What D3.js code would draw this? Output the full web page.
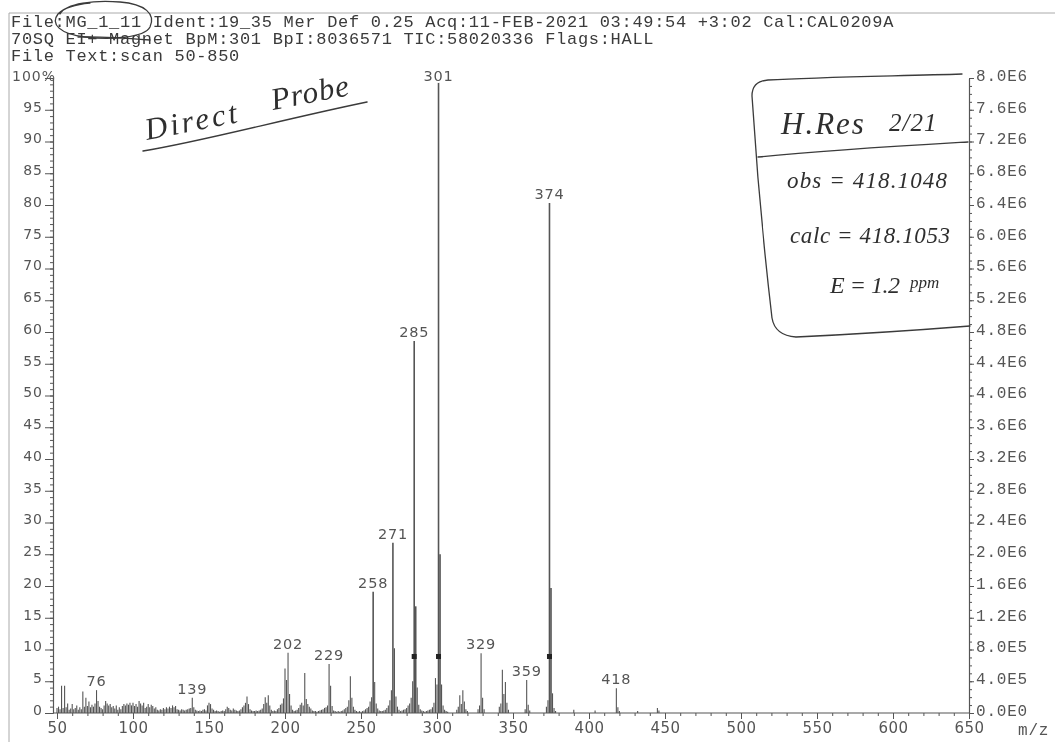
<!DOCTYPE html>
<html>
<head>
<meta charset="utf-8">
<script src="https://cdn.jsdelivr.net/npm/d3@7"></script>
<style>
  html, body { margin: 0; padding: 0; background: #fff; }
  svg { display: block; }
</style>
</head>
<body>
<svg id="chart" width="1055" height="742"></svg>
<script>
// ---- run header ----
const headerLines = [
  "File:MG_1_11 Ident:19_35 Mer Def 0.25 Acq:11-FEB-2021 03:49:54 +3:02 Cal:CAL0209A",
  "70SQ EI+ Magnet BpM:301 BpI:8036571 TIC:58020336 Flags:HALL",
  "File Text:scan 50-850"
];

// ---- spectrum: m/z and relative intensity (%) ----
const mzValues = [
  50,51,52,53,54,55,56,57,58,59,60,61,62,63,64,65,66,67,68,69,70,71,72,73,74,75,76,77,78,79,
  80,81,82,83,84,85,86,87,88,89,90,91,92,93,94,95,96,97,98,99,100,101,102,103,104,105,106,107,108,109,
  110,111,112,113,114,115,116,117,118,119,120,121,122,123,124,125,126,127,128,129,130,131,132,133,134,135,136,137,138,139,
  140,141,142,143,144,145,146,147,148,149,150,151,152,153,154,155,156,157,158,159,160,161,162,163,164,165,166,167,168,169,
  170,171,172,173,174,175,176,177,178,179,180,181,182,183,184,185,186,187,188,189,190,191,192,193,194,195,196,197,198,199,
  200,201,202,203,204,205,206,207,208,209,210,211,212,213,214,215,216,217,218,219,220,221,222,223,224,225,226,227,228,229,
  230,231,232,233,234,235,236,237,238,239,240,241,242,243,244,245,246,247,248,249,250,251,252,253,254,255,256,257,258,259,
  260,261,262,263,264,265,266,267,268,269,270,271,272,273,274,275,276,277,278,279,280,281,282,283,284,285,286,287,288,289,
  290,291,292,293,294,295,296,297,298,299,300,301,302,303,304,305,306,307,
  313,314,315,316,317,318,319,320,327,328,329,330,331,
  341,342,343,344,345,346,347,358,359,360,361,
  372,373,374,375,376,377,378,390,404,418,419,420,432,445,446
];
const intensities = [
  0.8,1.0,0.6,4.3,0.8,4.3,0.9,1.5,0.5,0.7,1.4,0.6,0.8,1.2,0.5,0.9,0.6,3.4,1.0,2.4,1.1,1.8,0.9,1.3,1.0,1.5,3.6,1.9,1.0,0.8,
  0.6,1.2,1.9,1.5,1.2,1.4,0.9,1.1,0.7,1.2,0.5,0.9,0.6,1.1,1.4,1.2,1.5,1.3,1.6,1.2,1.6,1.1,1.4,1.0,1.9,1.5,1.2,1.6,0.8,1.0,
  1.4,0.9,1.3,1.1,0.7,0.9,0.5,0.4,0.6,0.5,0.8,0.6,0.9,0.7,1.0,0.8,1.2,0.9,1.1,0.6,0.5,0.4,0.6,0.5,0.4,0.5,0.6,0.7,0.8,2.4,
  0.9,0.5,0.4,0.3,0.4,0.3,0.5,0.6,0.4,1.2,1.6,1.4,0.7,0.5,0.3,0.4,0.3,0.2,0.3,0.4,0.3,0.6,1.0,0.8,0.5,0.4,0.7,0.5,0.4,0.3,
  0.4,0.6,0.9,1.2,1.6,2.6,1.4,0.6,0.4,0.3,0.3,0.4,0.3,0.4,0.5,0.7,1.4,2.5,1.6,2.8,1.2,0.5,0.3,0.4,0.3,0.6,0.8,1.3,1.5,2.3,
  7.0,5.2,9.5,3.0,1.2,0.5,0.3,0.4,0.5,0.8,1.3,1.6,1.2,6.3,2.2,1.4,1.0,0.7,0.4,0.3,0.3,0.2,0.3,0.4,0.5,0.6,0.8,0.9,1.2,7.7,
  4.3,1.1,0.4,0.3,0.2,0.3,0.2,0.3,0.4,0.6,0.8,1.0,2.0,5.8,2.4,1.0,0.5,0.3,0.2,0.3,0.2,0.3,0.4,0.6,0.8,1.0,1.8,2.5,19.1,4.9,
  1.5,0.7,0.4,0.3,0.3,0.4,0.5,0.8,1.2,2.0,3.6,26.8,10.2,2.6,1.0,0.5,0.3,0.4,0.5,0.6,0.8,1.2,1.5,2.4,5.0,58.6,16.8,4.0,1.3,0.6,
  0.4,0.3,0.2,0.3,0.4,0.5,0.6,0.9,1.6,5.5,4.5,100,25.0,4.5,1.2,0.5,0.3,0.2,
  0.5,1.0,2.8,1.4,3.6,1.8,0.6,0.3,0.6,1.2,9.4,2.4,0.6,
  1.0,1.5,6.8,3.0,4.9,1.6,0.5,0.6,5.2,1.3,0.4,
  1.0,2.0,80.3,19.7,3.1,0.8,0.3,0.5,0.4,3.9,0.9,0.3,0.3,0.8,0.4
];
const labeledPeaks = [76, 139, 202, 229, 258, 271, 285, 301, 329, 359, 374, 418];
const markedPeaks = [285, 301, 374];
const markerLevel = 8.9;

// ---- axes ----
const xTickValues = [50,100,150,200,250,300,350,400,450,500,550,600,650];
const leftTickValues = [0,5,10,15,20,25,30,35,40,45,50,55,60,65,70,75,80,85,90,95,100];
const leftTickLabels = ["0","5","10","15","20","25","30","35","40","45","50","55","60","65","70","75","80","85","90","95","100%"];
const rightTickValues = [0,4e5,8e5,1.2e6,1.6e6,2.0e6,2.4e6,2.8e6,3.2e6,3.6e6,4.0e6,4.4e6,4.8e6,5.2e6,5.6e6,6.0e6,6.4e6,6.8e6,7.2e6,7.6e6,8.0e6];
const rightTickLabels = ["0.0E0","4.0E5","8.0E5","1.2E6","1.6E6","2.0E6","2.4E6","2.8E6","3.2E6","3.6E6","4.0E6",
  "4.4E6","4.8E6","5.2E6","5.6E6","6.0E6","6.4E6","6.8E6","7.2E6","7.6E6","8.0E6"];

// ---- layout ----
const W = 1055, H = 742;
const plot = { left: 53, right: 969, top: 78, bottom: 713 };
const MONO = "'Liberation Mono', 'DejaVu Sans Mono', monospace";
const SANS = "'DejaVu Sans', 'Liberation Sans', sans-serif";
const HAND = "'Liberation Serif', 'DejaVu Serif', serif";
const INK = "#555";

const svg = d3.select("#chart");
const defs = svg.append("defs");
defs.append("filter").attr("id", "soft")
  .append("feGaussianBlur").attr("stdDeviation", 0.35);
const root = svg.append("g").attr("filter", "url(#soft)");

const x = d3.scaleLinear().domain([50, 650]).range([57, plot.right]);
const y = d3.scaleLinear().domain([0, 100]).range([plot.bottom, plot.top]);
const yAbs = d3.scaleLinear().domain([0, 8.0e6]).range([plot.bottom, plot.top]);

// page frame
root.append("path")
  .attr("d", `M9,${H} L9,13 L${W},13`)
  .attr("fill", "none").attr("stroke", "#aaa").attr("stroke-width", 1);

// header
root.append("g").selectAll("text").data(headerLines).join("text")
  .attr("x", 11).attr("y", (d, i) => 27 + i * 17)
  .attr("font-family", MONO).attr("font-size", 17).attr("letter-spacing", 0.7)
  .attr("fill", "#3a3a3a").text(d => d);

// spectrum sticks
const peaks = mzValues.map((m, i) => ({ mz: m, pct: intensities[i] }));
root.append("g").selectAll("line").data(peaks).join("line")
  .attr("x1", d => x(d.mz)).attr("x2", d => x(d.mz))
  .attr("y1", y(0)).attr("y2", d => y(d.pct))
  .attr("stroke", INK).attr("stroke-width", d => d.pct > 15 ? 1.6 : 1.1);

// markers on the tall peaks
root.append("g").selectAll("rect").data(markedPeaks).join("rect")
  .attr("x", d => x(d) - 2.5).attr("y", y(markerLevel) - 2.5)
  .attr("width", 5).attr("height", 5).attr("fill", "#222");

// axes
function styleAxis(g, family, size, spacing) {
  g.select(".domain").attr("stroke", INK).attr("stroke-width", 1.1);
  g.selectAll(".tick line").attr("stroke", INK);
  g.selectAll(".tick text").attr("font-family", family).attr("font-size", size)
    .attr("letter-spacing", spacing).attr("fill", INK);
}

// left minor + major
root.append("g").attr("transform", `translate(${plot.left},0)`)
  .call(d3.axisLeft(y).tickValues(d3.range(0, 101, 1)).tickSize(3).tickSizeOuter(0).tickFormat(""))
  .call(g => styleAxis(g, SANS, 14, 1));
const leftAxis = root.append("g").attr("transform", `translate(${plot.left},0)`)
  .call(d3.axisLeft(y).tickValues(leftTickValues).tickSize(8).tickSizeOuter(0).tickPadding(2)
    .tickFormat((d, i) => leftTickLabels[i]))
  .call(g => styleAxis(g, SANS, 14, 1));
leftAxis.selectAll(".tick text").filter(d => d === 100)
  .attr("text-anchor", "start").attr("x", 12 - plot.left).attr("dy", "0.2em");
leftAxis.selectAll(".tick text").filter(d => d !== 100).attr("dy", "0.1em");

// right minor + major
root.append("g").attr("transform", `translate(${plot.right},0)`)
  .call(d3.axisRight(yAbs).tickValues(d3.range(0, 8.0e6 + 1, 1e5)).tickSize(3).tickSizeOuter(0).tickFormat(""))
  .call(g => styleAxis(g, MONO, 16, 0.8));
root.append("g").attr("transform", `translate(${plot.right},0)`)
  .call(d3.axisRight(yAbs).tickValues(rightTickValues).tickSize(5).tickSizeOuter(0).tickPadding(2)
    .tickFormat((d, i) => rightTickLabels[i]))
  .call(g => styleAxis(g, MONO, 16, 0.8))
  .call(g => g.selectAll(".tick text").attr("dy", "0.15em"));

// bottom minor + major
root.append("g").attr("transform", `translate(0,${plot.bottom})`)
  .call(d3.axisBottom(x).tickValues(d3.range(50, 651, 10)).tickSize(3).tickSizeOuter(0).tickFormat(""))
  .call(g => styleAxis(g, SANS, 15, 0.5))
  .call(g => g.select(".domain").attr("d", `M${plot.left},0H${plot.right}`));
root.append("g").attr("transform", `translate(0,${plot.bottom})`)
  .call(d3.axisBottom(x).tickValues(xTickValues).tickSize(6).tickSizeOuter(0).tickPadding(3).tickFormat(d3.format("d")))
  .call(g => styleAxis(g, SANS, 15, 0.5))
  .call(g => g.select(".domain").remove());

root.append("text").attr("x", 1018).attr("y", 735)
  .attr("font-family", MONO).attr("font-size", 16).attr("letter-spacing", 0.8)
  .attr("fill", INK).text("m/z");

// peak labels
const labelData = labeledPeaks.map(m => peaks.find(p => p.mz === m));
root.append("g").selectAll("text").data(labelData).join("text")
  .attr("x", d => x(d.mz)).attr("y", d => Math.max(y(d.pct) - 4, plot.top + 3))
  .attr("text-anchor", "middle")
  .attr("font-family", SANS).attr("font-size", 14.5).attr("letter-spacing", 0.8)
  .attr("fill", INK)
  .attr("stroke", "#fff").attr("stroke-width", 4).attr("paint-order", "stroke")
  .text(d => d.mz);

// ---- pen annotations ----
const pen = root.append("g").attr("fill", "none").attr("stroke", "#3a3a3a")
  .attr("stroke-width", 1.3).attr("stroke-linecap", "round");

// circled file name
pen.append("path")
  .attr("d", "M60,14 C66,3 95,0 120,2 C145,4 156,14 150,27 C144,38 110,40 85,37 C60,34 50,24 58,14 C66,6 78,4 90,3");
pen.append("path").attr("d", "M78,37 C100,36 125,38 150,40");

// "Direct Probe" underline
pen.append("path").attr("d", "M143,151 C200,142 280,120 367,102").attr("stroke-width", 1.5);

// results box
pen.append("path")
  .attr("d", "M962,74 C900,76 820,77 768,80 C755,81 752,88 752,96 C756,160 764,250 772,318 C774,330 782,336 796,337 C860,334 920,330 970,326");
pen.append("path").attr("d", "M758,157 C830,150 900,146 968,142");

const handText = root.append("g").attr("fill", "#2f2f2f")
  .attr("font-family", HAND).attr("font-style", "italic");
handText.append("text").attr("transform", "translate(147,140) rotate(-11)")
  .attr("font-size", 31).attr("letter-spacing", 3).text("Direct");
handText.append("text").attr("transform", "translate(273,110) rotate(-11)")
  .attr("font-size", 31).attr("letter-spacing", 1).text("Probe");
handText.append("text").attr("x", 781).attr("y", 134).attr("font-size", 31)
  .attr("letter-spacing", 2).text("H.Res");
handText.append("text").attr("x", 889).attr("y", 131).attr("font-size", 25)
  .attr("letter-spacing", 1).text("2/21");
handText.append("text").attr("x", 787).attr("y", 188).attr("font-size", 23)
  .attr("textLength", 160).attr("lengthAdjust", "spacing").text("obs = 418.1048");
handText.append("text").attr("x", 790).attr("y", 243).attr("font-size", 23)
  .attr("textLength", 160).attr("lengthAdjust", "spacing").text("calc = 418.1053");
handText.append("text").attr("x", 830).attr("y", 293).attr("font-size", 24)
  .attr("textLength", 70).attr("lengthAdjust", "spacing").text("E = 1.2");
handText.append("text").attr("x", 910).attr("y", 288).attr("font-size", 17).text("ppm");
</script>
</body>
</html>
